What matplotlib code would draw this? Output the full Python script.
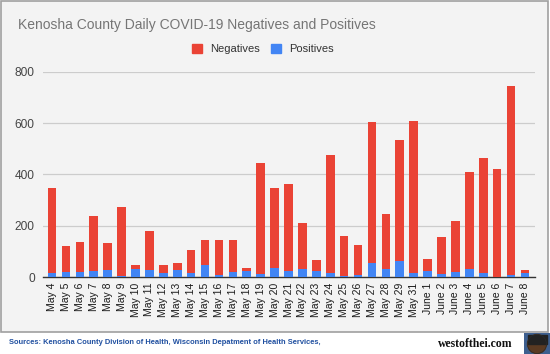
import matplotlib.pyplot as plt
from matplotlib.patches import Rectangle, Circle, Patch

days = ["May 4", "May 5", "May 6", "May 7", "May 8", "May 9", "May 10", "May 11",
        "May 12", "May 13", "May 14", "May 15", "May 16", "May 17", "May 18", "May 19",
        "May 20", "May 21", "May 22", "May 23", "May 24", "May 25", "May 26", "May 27",
        "May 28", "May 29", "May 31", "June 1", "June 2", "June 3", "June 4", "June 5",
        "June 6", "June 7", "June 8"]
positives = [14, 21, 21, 23, 29, 4, 33, 29, 14, 29, 14, 46, 8, 18, 22, 12,
             36, 25, 31, 22, 14, 5, 8, 53, 31, 61, 14, 25, 12, 18, 31, 14,
             1, 8, 14]
totals = [348, 121, 135, 237, 133, 272, 46, 181, 46, 56, 104, 146, 146, 146, 35, 446,
          349, 362, 212, 65, 478, 160, 125, 603, 244, 534, 610, 69, 156, 219, 408, 464,
          422, 747, 27]
negatives = [t - p for t, p in zip(totals, positives)]

RED = "#ea4335"
BLUE = "#4285f4"
BG = "#f3f3f3"

plt.rcParams['font.family'] = ['Liberation Sans', 'DejaVu Sans']

fig = plt.figure(figsize=(5.5, 3.54), dpi=100)
fig.patch.set_facecolor("white")
W, H = 550, 354

# grey chart panel with border
fig.patches.append(Rectangle((1 / W, (H - 332) / H), 547 / W, 331 / H,
                             transform=fig.transFigure, facecolor=BG,
                             edgecolor="#a0a0a0", linewidth=1.2, zorder=-5))

ax = fig.add_axes([43 / W, (H - 277) / H, 492 / W, 205 / H])
ax.set_zorder(2)
ax.set_facecolor(BG)
x = list(range(len(days)))
ax.bar(x, positives, width=0.62, color=BLUE, zorder=3)
ax.bar(x, negatives, width=0.62, bottom=positives, color=RED, zorder=3)

ax.set_xlim(-0.65, len(days) - 1 + 0.72)
ax.set_ylim(0, 800)
ax.set_yticks([0, 200, 400, 600, 800])
ax.grid(axis="y", color="#cccccc", linewidth=0.9, zorder=0)
for s in ["top", "right", "left"]:
    ax.spines[s].set_visible(False)
ax.spines["bottom"].set_color("#333333")
ax.spines["bottom"].set_linewidth(1)
ax.tick_params(axis="y", length=0, labelsize=8.6, labelcolor="#444444", pad=6)
ax.tick_params(axis="x", length=0, labelsize=7.5, labelcolor="#1a1a1a", pad=4)
ax.set_xticks(x)
ax.set_xticklabels(days, rotation=90)

fig.text(18 / W, 1 - 25 / H, "Kenosha County Daily COVID-19 Negatives and Positives",
         fontsize=10, color="#757575", va="center", ha="left")

handles = [Patch(color=RED, label="Negatives"), Patch(color=BLUE, label="Positives")]
fig.legend(handles=handles, loc="center", bbox_to_anchor=(263 / W, 1 - 49 / H),
           ncol=2, frameon=False, fontsize=8, handlelength=0.9, handleheight=0.9,
           columnspacing=1.0, handletextpad=0.7, labelcolor="#333333")

fig.text(9 / W, 1 - 343 / H,
         "Sources: Kenosha County Division of Health, Wisconsin Depatment of Health Services,",
         fontsize=5.4, fontweight="bold", color="#1f4fa0", va="center", ha="left")

# site logo
fig.text(438 / W, 1 - 347 / H, "westofthei.com", fontsize=8.5, fontweight="bold",
         family="Liberation Serif", color="#111111", va="baseline", ha="left")

# small globe logo
gax = fig.add_axes([524 / W, 0, 26 / W, 21 / H])
gax.set_xlim(0, 26)
gax.set_ylim(0, 21)
gax.set_facecolor("#3d5f8f")
gax.add_patch(Circle((13, 10), 9.5, color="#5a3a22"))
gax.add_patch(Rectangle((3.5, 10), 19, 9.5, color="#222222"))
gax.add_patch(Circle((13, 10), 9.5, fill=False, color="#2a2a2a", lw=0.5))
gax.set_xticks([])
gax.set_yticks([])
for s in gax.spines.values():
    s.set_visible(False)

fig.savefig("out.png", dpi=100, facecolor=fig.get_facecolor())
